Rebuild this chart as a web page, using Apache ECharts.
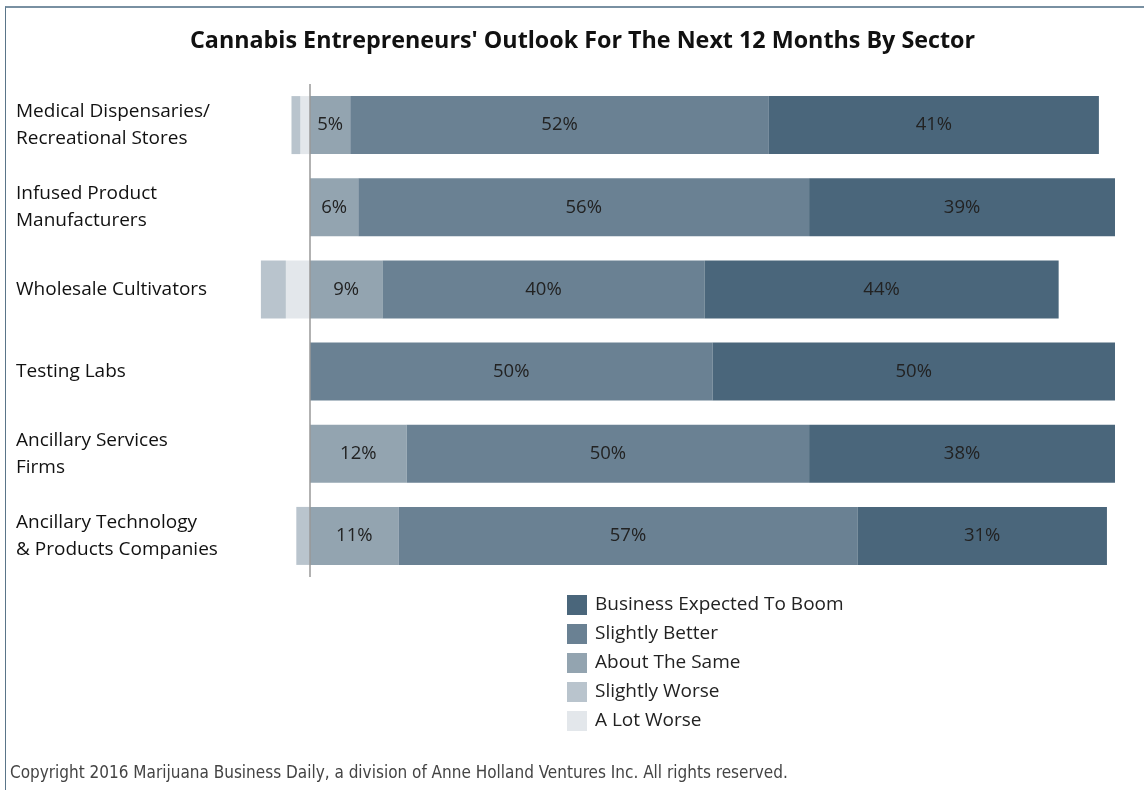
<!DOCTYPE html>
<html>
<head>
<meta charset="utf-8">
<script src="https://cdn.jsdelivr.net/npm/echarts@6/dist/echarts.min.js"></script>
<style>
  html, body { margin: 0; padding: 0; background: #fff; }
  #chart { width: 1144px; height: 790px; position: relative; }
  .frame { position: absolute; left: 5px; top: 6px; right: 0; bottom: 0;
           border-top: 2px solid #7990a2; border-left: 1px solid #5a7589; pointer-events: none; }
</style>
</head>
<body>
<div id="chart"></div>
<div class="frame"></div>
<script>
  // 类目（从上到下）
  const sectors = [
    "Medical Dispensaries/\nRecreational Stores",
    "Infused Product\nManufacturers",
    "Wholesale Cultivators",
    "Testing Labs",
    "Ancillary Services\nFirms",
    "Ancillary Technology\n& Products Companies"
  ];
  // 各系列数值 (%)
  const boom = [41, 39, 44, 50, 38, 31];
  const slightlyBetter = [52, 56, 40, 50, 50, 57];
  const aboutSame = [5, 6, 9, 0, 12, 11];
  const slightlyWorse = [1.1, 0, 3.1, 0, 0, 1.7];
  const aLotWorse = [1.2, 0, 3, 0, 0, 0];

  const colors = {
    boom: "#4a667b",
    better: "#6a8193",
    same: "#93a4b0",
    sWorse: "#b9c4cd",
    lWorse: "#e3e7eb"
  };

  const myChart = echarts.init(document.getElementById("chart"));

  const pctLabel = {
    show: true,
    position: "inside",
    fontFamily: "Open Sans",
    fontSize: 18.5,
    color: "#222",
    formatter: (p) => (p.value ? p.value + "%" : "")
  };

  const bar = (name, data, color, withLabel) => ({
    type: "bar",
    name: name,
    stack: "total",
    data: data,
    barWidth: 58,
    itemStyle: { color: color },
    label: withLabel ? pctLabel : { show: false },
    emphasis: { disabled: true }
  });

  const options = {
    animation: false,
    title: {
      text: "Cannabis Entrepreneurs' Outlook For The Next 12 Months By Sector",
      left: 185,
      top: 25,
      textStyle: { fontFamily: "Open Sans", fontWeight: "bold", fontSize: 23.3, color: "#111" }
    },
    legend: {
      orient: "vertical",
      left: 562,
      top: 590,
      itemWidth: 20,
      itemHeight: 20,
      itemGap: 9,
      icon: "rect",
      textStyle: { fontFamily: "Open Sans", fontSize: 19, color: "#222", padding: [0, 0, 0, 3] },
      data: ["Business Expected To Boom", "Slightly Better", "About The Same", "Slightly Worse", "A Lot Worse"]
    },
    grid: { left: 149, right: 29, top: 84, height: 493, containLabel: false },
    xAxis: {
      type: "value",
      min: -20,
      max: 100,
      show: false
    },
    yAxis: {
      type: "category",
      inverse: true,
      data: sectors,
      axisTick: { show: false },
      axisLine: { show: false },
      axisLabel: {
        align: "left",
        margin: 133,
        fontFamily: "Open Sans",
        fontSize: 19,
        lineHeight: 27,
        color: "#111"
      }
    },
    series: [
      bar("About The Same", aboutSame, colors.same, true),
      bar("Slightly Better", slightlyBetter, colors.better, true),
      bar("Business Expected To Boom", boom, colors.boom, true),
      bar("A Lot Worse", aLotWorse.map((v) => -v), colors.lWorse, false),
      Object.assign(bar("Slightly Worse", slightlyWorse.map((v) => -v), colors.sWorse, false), {
        markLine: {
          silent: true,
          symbol: "none",
          label: { show: false },
          lineStyle: { color: "#999", type: "solid", width: 1.5 },
          data: [{ xAxis: 0 }]
        }
      })
    ],
    graphic: [
      {
        type: "text",
        left: 10,
        top: 765,
        style: {
          text: "Copyright 2016 Marijuana Business Daily, a division of Anne Holland Ventures Inc. All rights reserved.",
          font: "17px 'DejaVu Sans Condensed', 'Liberation Sans', sans-serif",
          fill: "#444"
        }
      }
    ]
  };
  myChart.setOption(options);
</script>
</body>
</html>
